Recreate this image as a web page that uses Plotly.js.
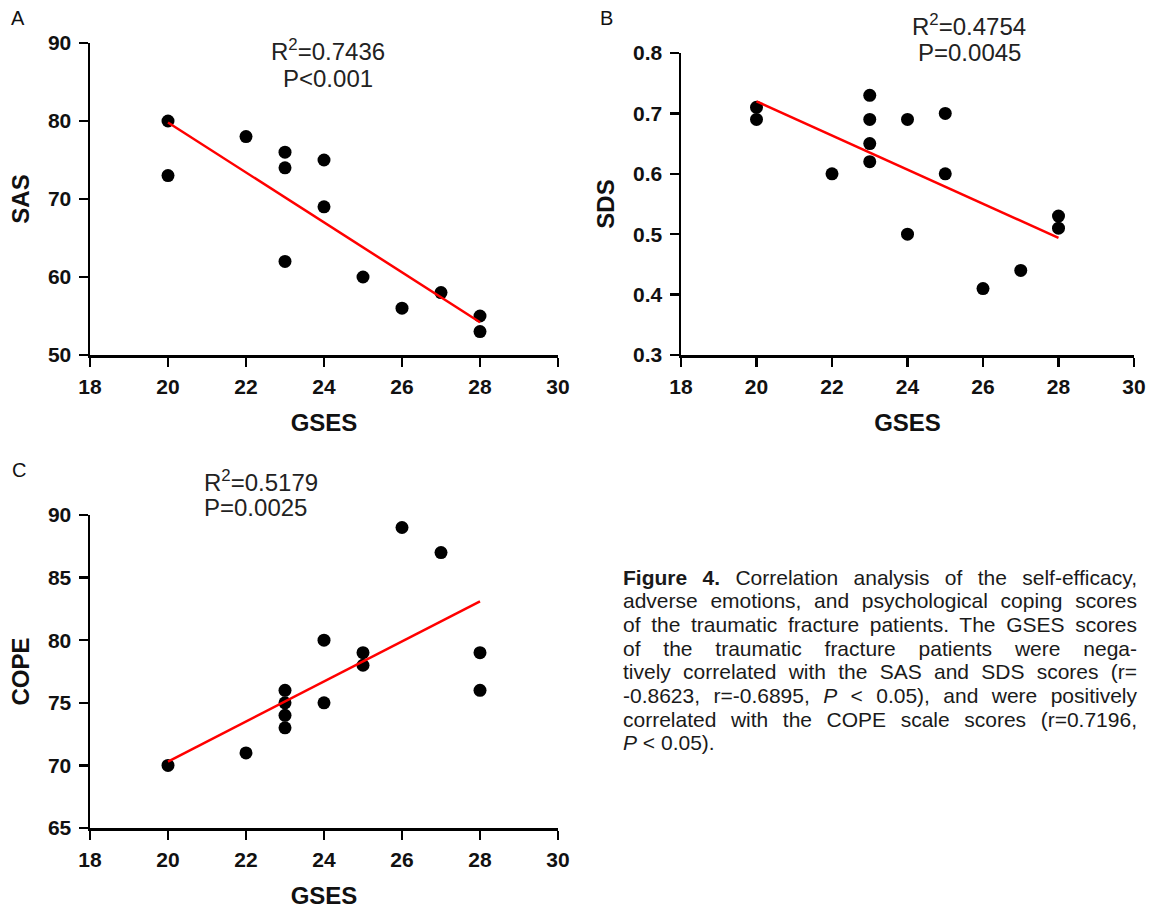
<!DOCTYPE html>
<html>
<head>
<meta charset="utf-8">
<script src="https://cdn.plot.ly/plotly-3.0.1.min.js"></script>
<style>
  html, body { margin: 0; padding: 0; background: #fff; }
  #chart { width: 1151px; height: 909px; }
</style>
</head>
<body>
<div id="chart"></div>
<script>
// ---------- data ----------
const xTicks = [18, 20, 22, 24, 26, 28, 30];

const gsesA = [20, 20, 22, 23, 23, 23, 24, 24, 25, 26, 27, 28, 28];
const sas   = [80, 73, 78, 76, 74, 62, 75, 69, 60, 56, 58, 55, 53];

const gsesB = [20, 20, 22, 23, 23, 23, 23, 24, 24, 25, 25, 26, 27, 28, 28];
const sds   = [0.71, 0.69, 0.60, 0.73, 0.69, 0.65, 0.62, 0.69, 0.50, 0.70, 0.60, 0.41, 0.44, 0.53, 0.51];

const gsesC = [20, 22, 23, 23, 23, 23, 24, 24, 25, 25, 26, 27, 28, 28];
const cope  = [70, 71, 76, 75, 74, 73, 80, 75, 79, 78, 89, 87, 79, 76];

const fitX    = [20, 28];
const fitSAS  = [79.8, 54.2];
const fitSDS  = [0.720, 0.494];
const fitCOPE = [70.3, 83.1];

const statsA = ["R<sup>2</sup>=0.7436", "P&lt;0.001"];
const statsB = ["R<sup>2</sup>=0.4754", "P=0.0045"];
const statsC = ["R<sup>2</sup>=0.5179", "P=0.0025"];

const captionLines = [
  "<b>Figure 4.</b> Correlation analysis of the self-efficacy,",
  "adverse emotions, and psychological coping scores",
  "of the traumatic fracture patients. The GSES scores",
  "of the traumatic fracture patients were nega-",
  "tively correlated with the SAS and SDS scores (r=",
  "-0.8623, r=-0.6895, <i>P</i> &lt; 0.05), and were positively",
  "correlated with the COPE scale scores (r=0.7196,",
  "<i>P</i> &lt; 0.05)."
];

// ---------- styles ----------
const W = 1151, H = 909;
const FONT = "Liberation Sans, Arial, sans-serif";
const CAPFONT = "Liberation Sans, Arial, sans-serif";

function px(x) { return x / W; }
function py(y) { return 1 - y / H; }

const dotStyle = { color: "#000", size: 13 };
const fitStyle = { color: "#ff0000", width: 2.5 };

const traces = [
  { x: gsesA, y: sas, xaxis: "x", yaxis: "y", mode: "markers", type: "scatter", marker: dotStyle, cliponaxis: false },
  { x: fitX, y: fitSAS, xaxis: "x", yaxis: "y", mode: "lines", type: "scatter", line: fitStyle },
  { x: gsesB, y: sds, xaxis: "x2", yaxis: "y2", mode: "markers", type: "scatter", marker: dotStyle, cliponaxis: false },
  { x: fitX, y: fitSDS, xaxis: "x2", yaxis: "y2", mode: "lines", type: "scatter", line: fitStyle },
  { x: gsesC, y: cope, xaxis: "x3", yaxis: "y3", mode: "markers", type: "scatter", marker: dotStyle, cliponaxis: false },
  { x: fitX, y: fitCOPE, xaxis: "x3", yaxis: "y3", mode: "lines", type: "scatter", line: fitStyle }
];

function xAxis(domain, anchor) {
  return {
    domain: domain, anchor: anchor, range: [18, 30],
    tickmode: "array", tickvals: xTicks, ticktext: xTicks.map(String),
    showline: true, linecolor: "#000", linewidth: 2.5,
    ticks: "outside", ticklen: 9, tickwidth: 2.5, tickcolor: "#000",
    showgrid: false, zeroline: false,
    tickfont: { family: FONT, size: 21, color: "#111", weight: "bold" },
    ticklabelstandoff: 2,
    title: { text: "GSES", font: { family: FONT, size: 24, color: "#111", weight: "bold" }, standoff: 18 },
    automargin: false, fixedrange: true
  };
}
function yAxis(domain, anchor, range, dtick, fmt, title, standoff) {
  return {
    domain: domain, anchor: anchor, range: range, dtick: dtick, tick0: range[0],
    tickformat: fmt,
    showline: true, linecolor: "#000", linewidth: 2.5,
    ticks: "outside", ticklen: 9, tickwidth: 2.5, tickcolor: "#000",
    showgrid: false, zeroline: false,
    tickfont: { family: FONT, size: 21, color: "#111", weight: "bold" },
    ticklabelstandoff: 3,
    title: { text: title, font: { family: FONT, size: 24, color: "#111", weight: "bold" }, standoff: standoff },
    automargin: false, fixedrange: true
  };
}

const annFont = { family: FONT, size: 24, color: "#222" };
const letterFont = { family: FONT, size: 20, color: "#111" };
const annotations = [
  { text: "A", x: px(18), y: py(18), xref: "paper", yref: "paper", showarrow: false, xanchor: "center", yanchor: "middle", font: letterFont },
  { text: "B", x: px(606), y: py(18), xref: "paper", yref: "paper", showarrow: false, xanchor: "center", yanchor: "middle", font: letterFont },
  { text: "C", x: px(19), y: py(470), xref: "paper", yref: "paper", showarrow: false, xanchor: "center", yanchor: "middle", font: letterFont },

  { text: statsA[0], x: px(328), y: py(50), xref: "paper", yref: "paper", showarrow: false, xanchor: "center", yanchor: "middle", font: annFont },
  { text: statsA[1], x: px(328), y: py(78), xref: "paper", yref: "paper", showarrow: false, xanchor: "center", yanchor: "middle", font: annFont },
  { text: statsB[0], x: px(969), y: py(25), xref: "paper", yref: "paper", showarrow: false, xanchor: "center", yanchor: "middle", font: annFont },
  { text: statsB[1], x: px(969), y: py(53), xref: "paper", yref: "paper", showarrow: false, xanchor: "center", yanchor: "middle", font: annFont },
  { text: statsC[0], x: px(202), y: py(481), xref: "paper", yref: "paper", showarrow: false, xanchor: "left", yanchor: "middle", font: annFont },
  { text: statsC[1], x: px(202), y: py(508), xref: "paper", yref: "paper", showarrow: false, xanchor: "left", yanchor: "middle", font: annFont }
];

const capTop = 577, capStep = 23.7, capLeft = 622, capWidth = 514;
captionLines.forEach((t, i) => {
  annotations.push({
    text: t, x: px(capLeft), y: py(capTop + i * capStep), xref: "paper", yref: "paper",
    showarrow: false, xanchor: "left", yanchor: "middle", align: "left", borderpad: 0,
    font: { family: CAPFONT, size: 21, color: "#1a1a1a" }
  });
});

const layout = {
  width: W, height: H,
  margin: { l: 0, r: 0, t: 0, b: 0 },
  paper_bgcolor: "#fff", plot_bgcolor: "#fff",
  showlegend: false,
  xaxis:  xAxis([px(90), px(558)], "y"),
  yaxis:  yAxis([py(355), py(43)], "x", [50, 90], 10, "d", "SAS", 12),
  xaxis2: xAxis([px(681), px(1134)], "y2"),
  yaxis2: yAxis([py(355), py(53)], "x2", [0.3, 0.8], 0.1, ".1f", "SDS", 12),
  xaxis3: xAxis([px(90), px(558)], "y3"),
  yaxis3: yAxis([py(828), py(515)], "x3", [65, 90], 5, "d", "COPE", 12),
  annotations: annotations
};

Plotly.newPlot("chart", traces, layout, { displayModeBar: false, staticPlot: true }).then(gd => {
  // justify caption lines (all but last) by adjusting word spacing
  const texts = gd.querySelectorAll(".annotation-text");
  const nStat = 9;
  texts.forEach((el, idx) => {
    const li = idx - nStat;
    if (li < 0 || li >= captionLines.length - 1) return;
    const w = el.getComputedTextLength();
    const raw = el.textContent;
    const spaces = (raw.match(/ /g) || []).length;
    if (spaces > 0) {
      const extra = (capWidth - w) / spaces;
      el.style.wordSpacing = extra + "px";
      const anch = el.getAttribute("text-anchor");
      if (anch === "middle") {
        const xAttr = parseFloat(el.getAttribute("x")) || 0;
        el.setAttribute("text-anchor", "start");
        el.setAttribute("x", xAttr - w / 2);
        el.querySelectorAll("tspan.line").forEach(t => { t.setAttribute("x", xAttr - w / 2); });
      }
    }
  });
});
</script>
</body>
</html>
